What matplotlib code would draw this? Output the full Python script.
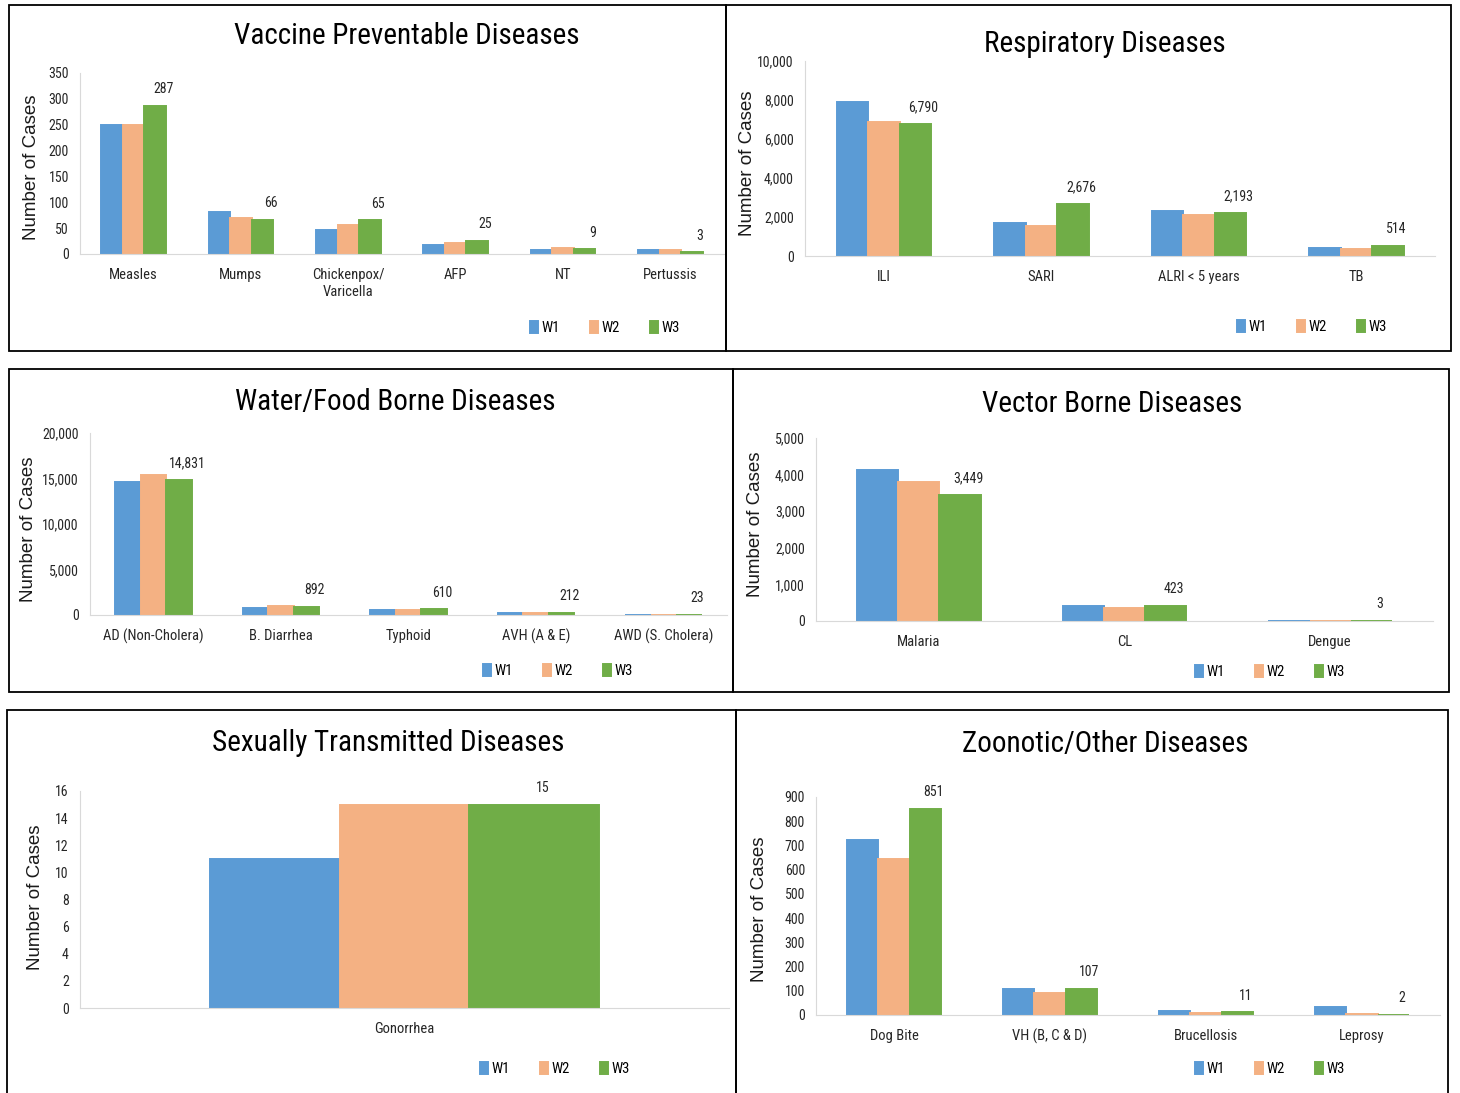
import numpy as np
import matplotlib.pyplot as plt
from matplotlib.patches import Rectangle
from matplotlib.ticker import FuncFormatter

W, H = 1460, 1093

weeks = ['W1', 'W2', 'W3']
colors = ['#5B9BD5', '#F4B183', '#70AD47']

# weekly case counts per disease group
vpd_cats = ['Measles', 'Mumps', 'Chickenpox/\nVaricella', 'AFP', 'NT', 'Pertussis']
vpd_w1 = [250, 82, 46, 17, 7, 7]
vpd_w2 = [250, 70, 57, 22, 12, 7]
vpd_w3 = [287, 66, 65, 25, 9, 3]

resp_cats = ['ILI', 'SARI', 'ALRI < 5 years', 'TB']
resp_w1 = [7900, 1700, 2330, 410]
resp_w2 = [6880, 1530, 2090, 345]
resp_w3 = [6790, 2676, 2193, 514]

water_cats = ['AD (Non-Cholera)', 'B. Diarrhea', 'Typhoid', 'AVH (A & E)', 'AWD (S. Cholera)']
water_w1 = [14590, 770, 560, 220, 20]
water_w2 = [15360, 950, 560, 205, 15]
water_w3 = [14831, 892, 610, 212, 23]

vector_cats = ['Malaria', 'CL', 'Dengue']
vector_w1 = [4120, 410, 6]
vector_w2 = [3790, 365, 4]
vector_w3 = [3449, 423, 3]

std_cats = ['Gonorrhea']
std_w1 = [11]
std_w2 = [15]
std_w3 = [15]

zoo_cats = ['Dog Bite', 'VH (B, C & D)', 'Brucellosis', 'Leprosy']
zoo_w1 = [722, 108, 15, 32]
zoo_w2 = [646, 90, 8, 3]
zoo_w3 = [851, 107, 11, 2]

# title, categories, series, y max, y step, comma ticks,
# box (x0, y0, x1, y1), axes (x0, x1, y_zero, y_top), title centre,
# legend centre, y label centre  (all in pixels)
panels = [
    ('Vaccine Preventable Diseases', vpd_cats, [vpd_w1, vpd_w2, vpd_w3], 350, 50, False,
     (9, 5, 726, 351), (80, 724, 254, 73), (407, 36), (605, 328), (32, 167)),
    ('Respiratory Diseases', resp_cats, [resp_w1, resp_w2, resp_w3], 10000, 2000, True,
     (726, 5, 1451, 351), (805, 1435, 256, 61), (1105, 44), (1312, 327), (747, 163)),
    ('Water/Food Borne Diseases', water_cats, [water_w1, water_w2, water_w3], 20000, 5000, True,
     (9, 369, 733, 692), (90, 727, 615, 433), (395, 402), (558, 671), (29, 529)),
    ('Vector Borne Diseases', vector_cats, [vector_w1, vector_w2, vector_w3], 5000, 1000, True,
     (733, 369, 1449, 692), (816, 1433, 621, 438), (1112, 404), (1270, 672), (755, 524)),
    ('Sexually Transmitted Diseases', std_cats, [std_w1, std_w2, std_w3], 16, 2, False,
     (7, 710, 736, 1100), (80, 729, 1008, 791), (388, 743), (555, 1069), (36, 897)),
    ('Zoonotic/Other Diseases', zoo_cats, [zoo_w1, zoo_w2, zoo_w3], 900, 100, False,
     (736, 710, 1448, 1100), (816, 1440, 1015, 797), (1105, 744), (1270, 1069), (760, 909)),
]

narrow = ['Roboto Condensed', 'IBM Plex Sans Condensed', 'DejaVu Sans']

fig = plt.figure(figsize=(W / 100, H / 100), dpi=100)


def fx(x):
    return x / W


def fy(y):
    return 1 - y / H


for title, cats, series, ymax, ystep, commas, box, axp, tpos, lpos, ypos in panels:
    bx0, by0, bx1, by1 = box
    fig.patches.append(Rectangle((fx(bx0), fy(by1)), fx(bx1 - bx0), (by1 - by0) / H,
                                 transform=fig.transFigure, fill=False,
                                 edgecolor='black', linewidth=1.3))

    ax0, ax1, yz, yt = axp
    ax = fig.add_axes([fx(ax0), fy(yz), fx(ax1 - ax0), (yz - yt) / H])
    x = np.arange(len(cats))
    width = 0.2
    bars = []
    for i, (vals, c, lab) in enumerate(zip(series, colors, weeks)):
        # edge keeps the very small counts visible as a thin strip
        b = ax.bar(x + (i - 1) * width, vals, width, color=c, edgecolor=c,
                   linewidth=1.4, label=lab)
        bars.append(b)

    # only the latest week gets a value label
    for xi, v in zip(x + width, series[2]):
        ax.annotate(f'{v:,}', (xi, v), xytext=(6, 7), textcoords='offset points',
                    ha='center', va='bottom', fontsize=10, family=narrow,
                    color='#262626')

    ax.set_xlim(-0.5, len(cats) - 0.5)
    ax.set_ylim(0, ymax)
    ax.set_yticks(np.arange(0, ymax + ystep / 2, ystep))
    if commas:
        ax.yaxis.set_major_formatter(FuncFormatter(lambda v, p: f'{v:,.0f}'))
    ax.set_xticks(x)
    ax.set_xticklabels(cats, family=narrow, fontsize=10.5, color='#262626',
                       linespacing=1.3)
    for lbl in ax.get_yticklabels():
        lbl.set_family(narrow)
        lbl.set_fontsize(10)
        lbl.set_color('#262626')
    ax.tick_params(axis='x', length=0, pad=10)
    ax.tick_params(axis='y', length=0, pad=8)
    for s in ['top', 'right']:
        ax.spines[s].set_visible(False)
    ax.spines['left'].set_color('#D9D9D9')
    ax.spines['bottom'].set_color('#D9D9D9')
    ax.patch.set_alpha(0)

    ax.set_ylabel('Number of Cases', family=['Liberation Sans', 'DejaVu Sans'],
                  fontsize=13.5, color='#1a1a1a', va='center')
    ax.yaxis.set_label_coords((ypos[0] - ax0) / (ax1 - ax0), (yz - ypos[1]) / (yz - yt))

    fig.text(fx(tpos[0]), fy(tpos[1]), title, ha='center', va='center',
             family=narrow, fontsize=21, color='black')

    ax.legend(handles=bars, loc='center', ncol=3, frameon=False,
              bbox_to_anchor=(fx(lpos[0]), fy(lpos[1])), bbox_transform=fig.transFigure,
              handlelength=0.5, handleheight=0.9, handletextpad=0.25, columnspacing=2.1,
              prop={'family': narrow, 'size': 10.5})

fig.savefig('out.png', dpi=100, facecolor='white')
